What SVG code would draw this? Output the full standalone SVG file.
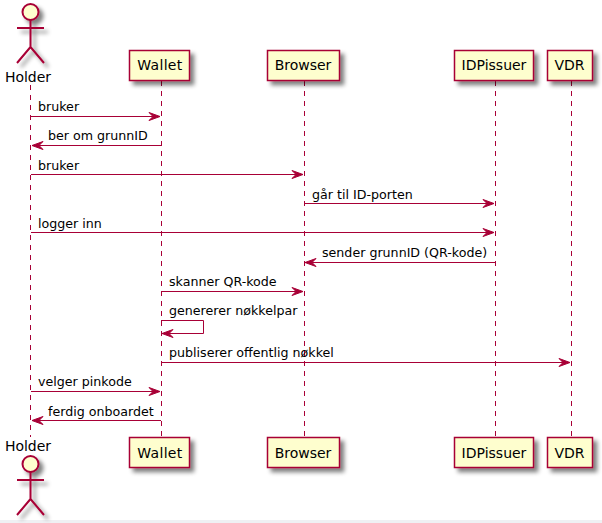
<svg xmlns="http://www.w3.org/2000/svg" width="602" height="523" viewBox="0 0 602 523">
<style>
text{font-family:"DejaVu Sans",sans-serif;fill:#000}
.m{font-size:12.65px}
.p{font-size:14px;text-anchor:middle}
.box{fill:#FEFECE;stroke:#A80036;stroke-width:1.5}
.act{fill:none;stroke:#A80036;stroke-width:2}
.head{fill:#FEFECE;stroke:#A80036;stroke-width:2}
.life{fill:none;stroke:#A80036;stroke-width:1;stroke-dasharray:5 5}
.msg{fill:none;stroke:#A80036;stroke-width:1;marker-end:url(#ah)}
</style>
<defs>
<filter id="sh" x="-30%" y="-30%" width="170%" height="170%"><feGaussianBlur in="SourceAlpha" stdDeviation="2"/><feOffset dx="4" dy="4"/><feComponentTransfer><feFuncA type="linear" slope="0.5"/></feComponentTransfer><feMerge><feMergeNode/><feMergeNode in="SourceGraphic"/></feMerge></filter>
<marker id="ah" markerUnits="userSpaceOnUse" markerWidth="14" markerHeight="12" refX="12" refY="6" orient="auto"><path d="M1,2 L12,6 L1,10 L5,6 Z" fill="#A80036" stroke="#A80036" stroke-width="1"/></marker>
</defs>
<rect x="0" y="520" width="602" height="3" fill="#EFF0F3"/>
<g id="connectors">
<path class="life" d="M30.5,85 V437"/><path class="life" d="M161.5,81 V437"/><path class="life" d="M304.5,81 V437"/><path class="life" d="M495.5,81 V437"/><path class="life" d="M571.5,81 V437"/>
<path class="msg" d="M31,116.5 H160"/><text class="m" x="38" y="111">bruker</text>
<path class="msg" d="M161,145.5 H32"/><text class="m" x="48" y="140">ber om grunnID</text>
<path class="msg" d="M31,174.5 H303"/><text class="m" x="38" y="170">bruker</text>
<path class="msg" d="M304,203.5 H494"/><text class="m" x="312" y="199">går til ID-porten</text>
<path class="msg" d="M31,232.5 H494"/><text class="m" x="38" y="228">logger inn</text>
<path class="msg" d="M495,262.5 H305"/><text class="m" x="322" y="257">sender grunnID (QR-kode)</text>
<path class="msg" d="M161,291.5 H303"/><text class="m" x="169" y="286">skanner QR-kode</text>
<path class="msg" d="M161,320.5 H203.500 V333.5 H162"/><text class="m" x="169" y="315">genererer nøkkelpar</text>
<path class="msg" d="M161,362.500 H570"/><text class="m" x="169" y="357">publiserer offentlig nøkkel</text>
<path class="msg" d="M31,391.5 H160"/><text class="m" x="38" y="386">velger pinkode</text>
<path class="msg" d="M161,420.5 H32"/><text class="m" x="48" y="416">ferdig onboardet</text>
</g>
<g id="holder-top"><g filter="url(#sh)"><circle class="head" cx="30.500" cy="12" r="8"/><path class="act" d="M30.500,20 V47 M17,28 H44 M30.500,47 L17,63 M30.500,47 L44,63"/></g><text class="p" x="28" y="82">Holder</text></g>
<g id="wallet-top"><rect class="box" x="129.500" y="50.500" width="60" height="30" filter="url(#sh)"/><text class="p" x="159.800" y="70" textLength="45">Wallet</text></g>
<g id="browser-top"><rect class="box" x="267.500" y="50.500" width="72" height="30" filter="url(#sh)"/><text class="p" x="303" y="70">Browser</text></g>
<g id="idpissuer-top"><rect class="box" x="454.500" y="50.500" width="79" height="30" filter="url(#sh)"/><text class="p" x="494" y="70">IDPissuer</text></g>
<g id="vdr-top"><rect class="box" x="547.500" y="50.500" width="45" height="30" filter="url(#sh)"/><text class="p" x="569.500" y="70">VDR</text></g>
<g id="holder-bottom"><text class="p" x="28" y="451">Holder</text><g filter="url(#sh)"><circle class="head" cx="30.500" cy="464" r="8"/><path class="act" d="M30.500,472 V499 M17,480 H44 M30.500,499 L17,515 M30.500,499 L44,515"/></g></g>
<g id="wallet-bottom"><rect class="box" x="129.500" y="437.500" width="60" height="30" filter="url(#sh)"/><text class="p" x="159.800" y="458" textLength="45">Wallet</text></g>
<g id="browser-bottom"><rect class="box" x="267.500" y="437.500" width="72" height="30" filter="url(#sh)"/><text class="p" x="303" y="458">Browser</text></g>
<g id="idpissuer-bottom"><rect class="box" x="454.500" y="437.500" width="79" height="30" filter="url(#sh)"/><text class="p" x="494" y="458">IDPissuer</text></g>
<g id="vdr-bottom"><rect class="box" x="547.500" y="437.500" width="45" height="30" filter="url(#sh)"/><text class="p" x="569.500" y="458">VDR</text></g>
</svg>
